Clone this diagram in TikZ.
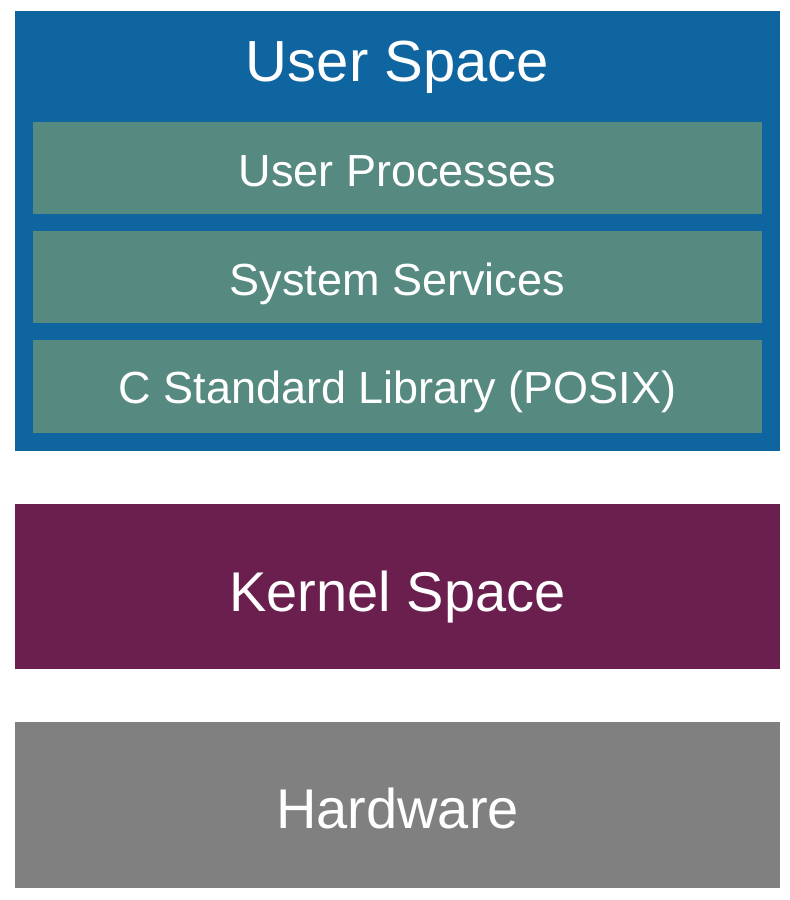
\documentclass[tikz,border=0pt]{standalone}
\usepackage{fontspec}
\setmainfont{Liberation Sans}
\definecolor{userblue}{HTML}{0F65A0}
\definecolor{libteal}{HTML}{568A81}
\definecolor{kernelpurple}{HTML}{6B1F4E}
\definecolor{hwgray}{HTML}{808080}
\tikzset{
  layer/.style={fill=#1, inner sep=0pt, anchor=north west},
  bigtext/.style={text=white, anchor=base, inner sep=0pt, font=\fontsize{56}{60}\selectfont},
  smalltext/.style={text=white, anchor=base, inner sep=0pt, font=\fontsize{45}{50}\selectfont},
}
\begin{document}
\begin{tikzpicture}[x=1pt,y=-1pt]
        \useasboundingbox (0,0) rectangle (790,900);
        % user space and its three layers
        \node[layer=userblue, minimum width=765pt, minimum height=440pt] (user) at (15,11) {};
        \node[bigtext, font=\fontsize{58}{62}\selectfont] (usertitle) at (397.5,81) {User Space};
        \node[layer=libteal, minimum width=729pt, minimum height=92pt] (procs) at (33,122) {};
        \node[layer=libteal, minimum width=729pt, minimum height=92pt] (services) at (33,231) {};
        \node[layer=libteal, minimum width=729pt, minimum height=93pt] (libc) at (33,340) {};
        \node[smalltext] (procstext) at (397.5,186) {User Processes};
        \node[smalltext] (servicestext) at (397.5,295) {System Services};
        \node[smalltext] (libctext) at (397.5,403) {C Standard Library (POSIX)};
        % kernel and hardware
        \node[layer=kernelpurple, minimum width=765pt, minimum height=165pt] (kernel) at (15,504) {};
        \node[bigtext] (kerneltext) at (397.5,611) {Kernel Space};
        \node[layer=hwgray, minimum width=765pt, minimum height=166pt] (hw) at (15,722) {};
        \node[bigtext] (hwtext) at (397.5,828) {Hardware};
    \end{tikzpicture}
\end{document}
